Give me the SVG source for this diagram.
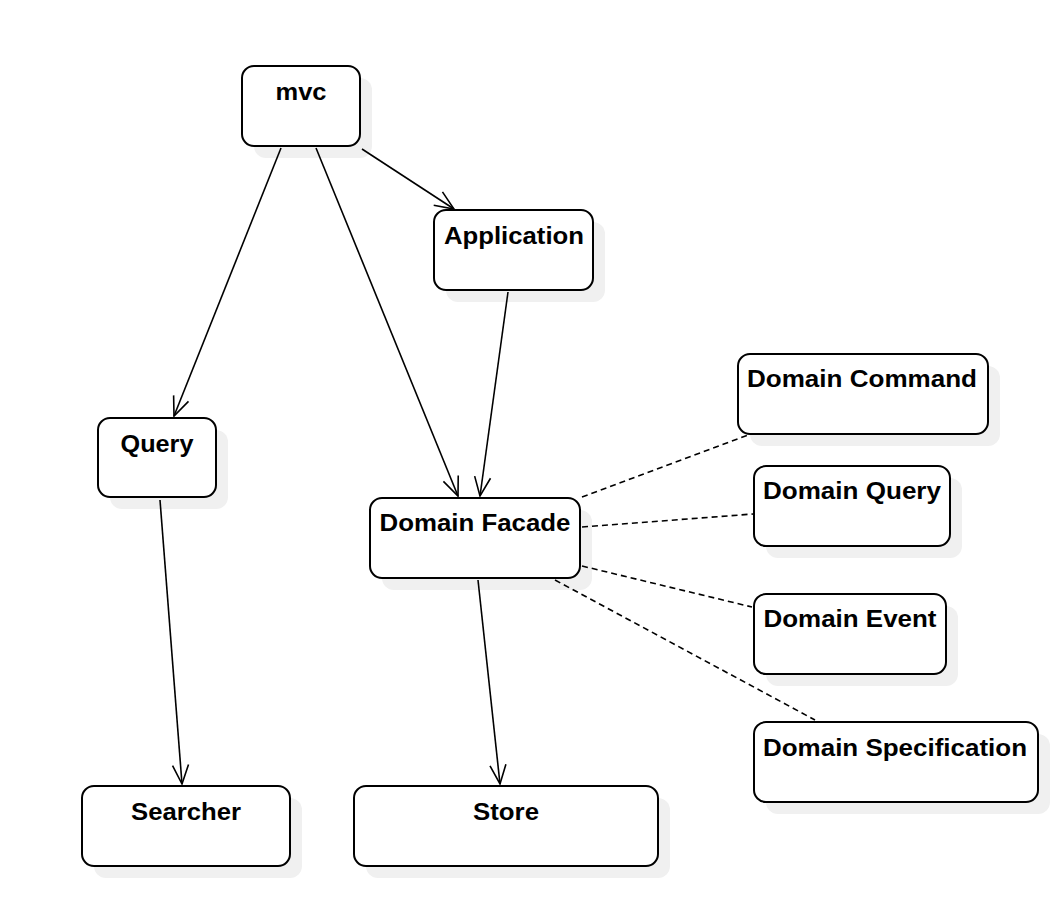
<svg xmlns="http://www.w3.org/2000/svg" width="1056" height="900" viewBox="0 0 1056 900">
<style>
.shadow{fill:#f0f0f0;stroke:none}
.box{fill:#ffffff;stroke:#000000;stroke-width:2}
.lbl{font-family:"Liberation Sans",Arial,sans-serif;font-weight:bold;font-size:23px;fill:#000000;text-anchor:middle}
.edge{fill:none;stroke:#000000;stroke-width:1.6}
.dash{fill:none;stroke:#000000;stroke-width:1.6;stroke-dasharray:6 4}
</style>
<defs>
<marker id="arr" markerUnits="userSpaceOnUse" viewBox="-22 -10 24 20" refX="0" refY="0" markerWidth="24" markerHeight="20" orient="auto">
<path d="M-19,-8 L0,0 L-19,8" fill="none" stroke="#000000" stroke-width="1.6"/>
</marker>
</defs>
<rect width="1056" height="900" fill="#ffffff"/>

<g id="mvc">
<rect class="shadow" x="254" y="78" width="118" height="80" rx="12"/>
<rect class="box" x="242" y="66" width="118" height="80" rx="12"/>
<text class="lbl" x="301" y="100" textLength="51" lengthAdjust="spacingAndGlyphs">mvc</text>
</g>
<g id="application">
<rect class="shadow" x="446" y="222" width="159" height="80" rx="12"/>
<rect class="box" x="434" y="210" width="159" height="80" rx="12"/>
<text class="lbl" x="514" y="244" textLength="140" lengthAdjust="spacingAndGlyphs">Application</text>
</g>
<g id="query">
<rect class="shadow" x="110" y="430" width="118" height="79" rx="12"/>
<rect class="box" x="98" y="418" width="118" height="79" rx="12"/>
<text class="lbl" x="157" y="452" textLength="73" lengthAdjust="spacingAndGlyphs">Query</text>
</g>
<g id="domain-facade">
<rect class="shadow" x="382" y="510" width="210" height="80" rx="12"/>
<rect class="box" x="370" y="498" width="210" height="80" rx="12"/>
<text class="lbl" x="475" y="531" textLength="191" lengthAdjust="spacingAndGlyphs">Domain Facade</text>
</g>
<g id="domain-command">
<rect class="shadow" x="750" y="366" width="250" height="80" rx="12"/>
<rect class="box" x="738" y="354" width="250" height="80" rx="12"/>
<text class="lbl" x="862" y="387" textLength="230" lengthAdjust="spacingAndGlyphs">Domain Command</text>
</g>
<g id="domain-query">
<rect class="shadow" x="766" y="478" width="196" height="80" rx="12"/>
<rect class="box" x="754" y="466" width="196" height="80" rx="12"/>
<text class="lbl" x="852" y="499" textLength="178" lengthAdjust="spacingAndGlyphs">Domain Query</text>
</g>
<g id="domain-event">
<rect class="shadow" x="766" y="606" width="192" height="80" rx="12"/>
<rect class="box" x="754" y="594" width="192" height="80" rx="12"/>
<text class="lbl" x="850" y="627" textLength="173" lengthAdjust="spacingAndGlyphs">Domain Event</text>
</g>
<g id="domain-specification">
<rect class="shadow" x="766" y="734" width="284" height="80" rx="12"/>
<rect class="box" x="754" y="722" width="284" height="80" rx="12"/>
<text class="lbl" x="895" y="756" textLength="264" lengthAdjust="spacingAndGlyphs">Domain Specification</text>
</g>
<g id="searcher">
<rect class="shadow" x="94" y="798" width="208" height="80" rx="12"/>
<rect class="box" x="82" y="786" width="208" height="80" rx="12"/>
<text class="lbl" x="186" y="820" textLength="110" lengthAdjust="spacingAndGlyphs">Searcher</text>
</g>
<g id="store">
<rect class="shadow" x="366" y="798" width="304" height="80" rx="12"/>
<rect class="box" x="354" y="786" width="304" height="80" rx="12"/>
<text class="lbl" x="506" y="820" textLength="66" lengthAdjust="spacingAndGlyphs">Store</text>
</g>

<g id="connectors">
<line class="edge" x1="281" y1="148" x2="174" y2="416" marker-end="url(#arr)"/>
<line class="edge" x1="316" y1="148" x2="458" y2="496" marker-end="url(#arr)"/>
<line class="edge" x1="362" y1="149" x2="454" y2="209" marker-end="url(#arr)"/>
<line class="edge" x1="508" y1="292" x2="480" y2="496" marker-end="url(#arr)"/>
<line class="edge" x1="160" y1="500" x2="182" y2="784" marker-end="url(#arr)"/>
<line class="edge" x1="478" y1="580" x2="500" y2="784" marker-end="url(#arr)"/>
<line class="dash" x1="582" y1="497" x2="748" y2="435"/>
<line class="dash" x1="582" y1="527" x2="753" y2="514"/>
<line class="dash" x1="582" y1="566" x2="752" y2="607"/>
<line class="dash" x1="555" y1="580" x2="815" y2="720"/>
</g>
</svg>
